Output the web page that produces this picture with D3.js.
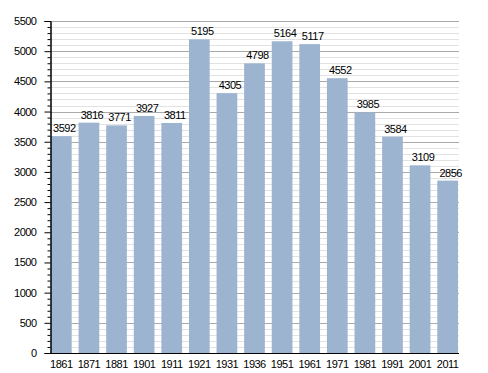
<!DOCTYPE html>
<html>
<head>
<meta charset="utf-8">
<script src="https://cdn.jsdelivr.net/npm/d3@7"></script>
<style>
  body { margin: 0; background: #fff; }
  text { font-family: "Liberation Sans", Arial, sans-serif; font-size: 11px; letter-spacing: -0.5px; fill: #000; }
</style>
</head>
<body>
<script>
const width = 488;
const height = 373;

// census years and population
const years = ["1861", "1871", "1881", "1901", "1911", "1921", "1931", "1936", "1951", "1961", "1971", "1981", "1991", "2001", "2011"];
const population = [3592, 3816, 3771, 3927, 3811, 5195, 4305, 4798, 5164, 5117, 4552, 3985, 3584, 3109, 2856];
const majorTicks = [0, 500, 1000, 1500, 2000, 2500, 3000, 3500, 4000, 4500, 5000, 5500];

const plotLeft = 50, plotRight = 459, plotTop = 21, plotBottom = 353;

const x = d3.scaleBand()
  .domain(years)
  .range([plotLeft + 1, plotRight - 1])
  .paddingInner(0.25)
  .paddingOuter(0);

const y = d3.scaleLinear()
  .domain([0, 5500])
  .range([plotBottom, plotTop]);

const minorTicks = d3.range(0, 5501, 100).filter(v => v % 500 !== 0);

const svg = d3.select("body")
  .append("svg")
  .attr("width", width)
  .attr("height", height);

// minor grid
svg.append("g")
  .selectAll("line")
  .data(minorTicks)
  .enter()
  .append("line")
  .attr("x1", plotLeft)
  .attr("x2", plotRight)
  .attr("y1", d => Math.round(y(d)) + 0.5)
  .attr("y2", d => Math.round(y(d)) + 0.5)
  .style("stroke", "#e2e2e2");

// major grid
svg.append("g")
  .selectAll("line")
  .data(majorTicks.filter(d => d > 0))
  .enter()
  .append("line")
  .attr("x1", plotLeft)
  .attr("x2", plotRight)
  .attr("y1", d => Math.round(y(d)) + 0.5)
  .attr("y2", d => Math.round(y(d)) + 0.5)
  .style("stroke", "#aaaaaa");

// bars
svg.append("g")
  .selectAll("rect")
  .data(population)
  .enter()
  .append("rect")
  .attr("x", (d, i) => x(years[i]))
  .attr("y", d => y(d))
  .attr("width", x.bandwidth())
  .attr("height", d => plotBottom - y(d))
  .style("fill", "#9cb4d0");

// value labels
svg.append("g")
  .selectAll("text")
  .data(population)
  .enter()
  .append("text")
  .attr("x", (d, i) => x(years[i]) + x.bandwidth() / 2 + 3)
  .attr("y", d => y(d) - 4)
  .attr("text-anchor", "middle")
  .text(d => d);

// y axis with minor ticks
const yAxis = svg.append("g").attr("transform", `translate(${plotLeft + 0.5},0)`);
yAxis.call(d3.axisLeft(y).tickValues(minorTicks).tickSize(3).tickFormat(""));
yAxis.append("g").call(d3.axisLeft(y).tickValues(majorTicks).tickSize(6).tickPadding(8).tickFormat(d3.format("d")));
yAxis.selectAll(".domain").style("stroke", "#000");
yAxis.selectAll("text").style("font-size", "11px").style("font-family", "Liberation Sans, Arial, sans-serif").style("fill", "#000");

// x axis
const xAxis = svg.append("g")
  .attr("transform", `translate(0,${plotBottom + 0.5})`)
  .call(d3.axisBottom(x).tickSize(0).tickPadding(7));
xAxis.select(".domain").attr("d", `M${plotLeft},0H${plotRight}`).style("stroke", "#000");
xAxis.selectAll("text").style("font-size", "11px").style("font-family", "Liberation Sans, Arial, sans-serif").style("fill", "#000");
</script>
</body>
</html>
